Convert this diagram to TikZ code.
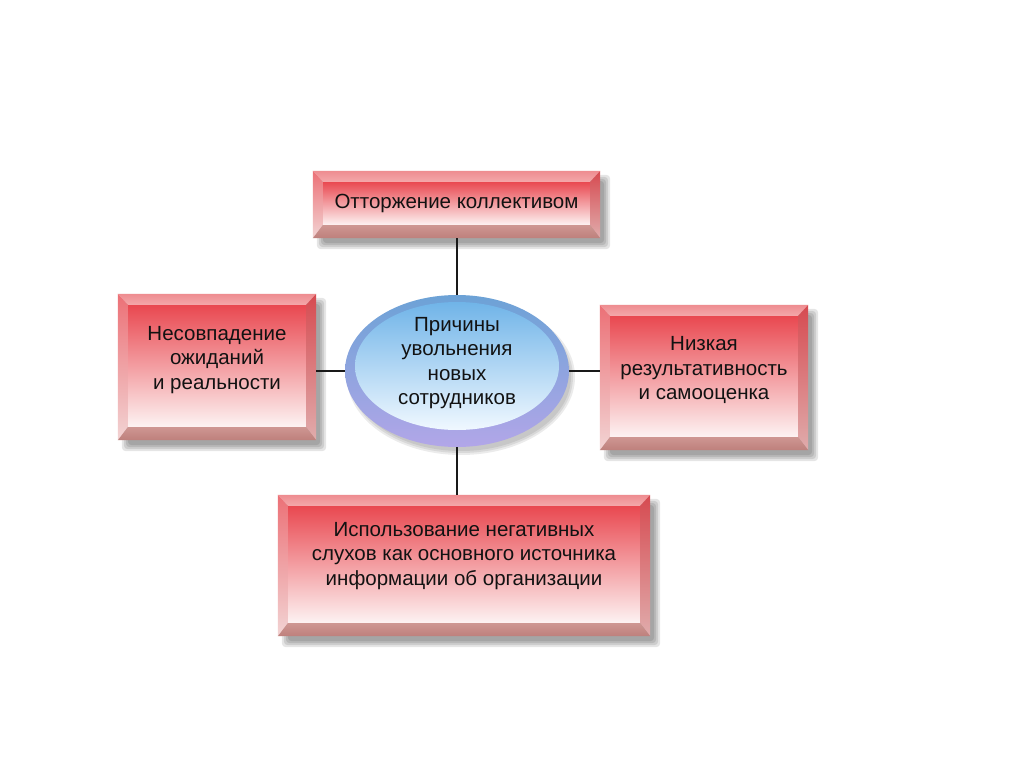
\documentclass[tikz,border=0pt]{standalone}
\usepackage{fontspec}
\setmainfont{Liberation Sans}
\usetikzlibrary{calc,shapes.geometric}
\pgfdeclarelayer{back}
\pgfdeclarelayer{bg}
\pgfsetlayers{back,bg,main}
\definecolor{facetop}{RGB}{233,72,80}
\definecolor{facemid}{RGB}{241,140,143}
\definecolor{facebot}{RGB}{253,243,243}
\definecolor{bevtopA}{RGB}{238,140,144}
\definecolor{bevtopB}{RGB}{244,168,170}
\definecolor{bevleftA}{RGB}{236,112,118}
\definecolor{bevleftB}{RGB}{242,212,212}
\definecolor{bevrightA}{RGB}{214,74,80}
\definecolor{bevrightB}{RGB}{224,172,172}
\definecolor{bevbotA}{RGB}{206,150,146}
\definecolor{bevbotB}{RGB}{190,128,124}
\definecolor{ringtop}{RGB}{108,162,214}
\definecolor{ringbot}{RGB}{178,166,232}
\definecolor{intop}{RGB}{112,180,232}
\definecolor{inbot}{RGB}{240,248,255}
\definecolor{txtc}{RGB}{18,18,18}
\newcommand\bevelbox[1]{%
\begin{pgfonlayer}{bg}
 \foreach \s in {0,2,4,6}{\fill[black,opacity=0.1,rounded corners=4pt] ($(#1.north west)+(10-\s,10-\s)$) rectangle ($(#1.south east)+(4+\s,5+\s)$);}
 \coordinate (#1A) at (#1.north west);
 \coordinate (#1B) at (#1.north east);
 \coordinate (#1C) at (#1.south east);
 \coordinate (#1D) at (#1.south west);
 \coordinate (#1a) at ($(#1.north west)+(10,11)$);
 \coordinate (#1b) at ($(#1.north east)+(-10,11)$);
 \coordinate (#1c) at ($(#1.south east)+(-10,-13)$);
 \coordinate (#1d) at ($(#1.south west)+(10,-13)$);
 \shade[top color=facetop,middle color=facemid,bottom color=facebot] (#1a) rectangle (#1c);
 \shade[top color=bevtopA,bottom color=bevtopB] (#1A) -- (#1B) -- (#1b) -- (#1a) -- cycle;
 \shade[top color=bevleftA,bottom color=bevleftB] (#1A) -- (#1a) -- (#1d) -- (#1D) -- cycle;
 \shade[top color=bevrightA,bottom color=bevrightB] (#1B) -- (#1C) -- (#1c) -- (#1b) -- cycle;
 \shade[top color=bevbotA,bottom color=bevbotB] (#1D) -- (#1d) -- (#1c) -- (#1C) -- cycle;
\end{pgfonlayer}}
\begin{document}
\begin{tikzpicture}[x=1pt,y=-1pt,
  box/.style={rectangle,draw=none,inner sep=0pt},
  txt/.style={align=center,text=txtc,font=\fontsize{20.5}{24.6}\selectfont,inner sep=0pt},
  conn/.style={draw=black!90,line width=2pt}]
\begin{pgfonlayer}{back}
\fill[white] (0,0) rectangle (1024,767);
\end{pgfonlayer}
\useasboundingbox (0,0) rectangle (1024,767);
% boxes
\node[box,minimum width=287pt,minimum height=67pt] (top) at (456.5,204.5) {};
\node[box,minimum width=198pt,minimum height=146pt] (lft) at (217,367) {};
\node[box,minimum width=208pt,minimum height=145pt] (rgt) at (704,377.5) {};
\node[box,minimum width=372pt,minimum height=141pt] (bot) at (464,565.5) {};
\node[ellipse,draw=none,minimum width=224pt,minimum height=152pt,inner sep=0pt] (ell) at (457,371) {};
\bevelbox{top}
\bevelbox{lft}
\bevelbox{rgt}
\bevelbox{bot}
% ellipse
\begin{pgfonlayer}{bg}
 \foreach \s in {0,2,4}{\fill[black,opacity=0.08] ($(ell.center)+(4,6)$) ellipse [x radius=110+\s, y radius=74+\s];}
 \shade[top color=ringtop,bottom color=ringbot] (ell.center) ellipse [x radius=112, y radius=76];
 \shade[top color=intop,bottom color=inbot] ($(ell.center)+(0,-5)$) ellipse [x radius=102, y radius=64];
\end{pgfonlayer}
% texts
\node[txt,yshift=1pt] (topT) at (top.center) {Отторжение коллективом};
\node[txt,yshift=7pt] (lftT) at (lft.center) {Несовпадение\\ожиданий\\и реальности};
\node[txt,yshift=7.5pt] (rgtT) at (rgt.center) {Низкая\\результативность\\и самооценка};
\node[txt,yshift=9.5pt] (botT) at (bot.center) {Использование негативных\\слухов как основного источника\\информации об организации};
\node[txt,yshift=8pt] (ellT) at (ell.center) {Причины\\увольнения\\новых\\сотрудников};
% connectors
\draw[conn] (top.south) -- (top.south |- ell.north);
\draw[conn] (ell.west) -- (ell.west -| lft.east);
\draw[conn] (ell.east) -- (ell.east -| rgt.west);
\draw[conn] (ell.south) -- (ell.south |- bot.north);
\end{tikzpicture}
\end{document}
